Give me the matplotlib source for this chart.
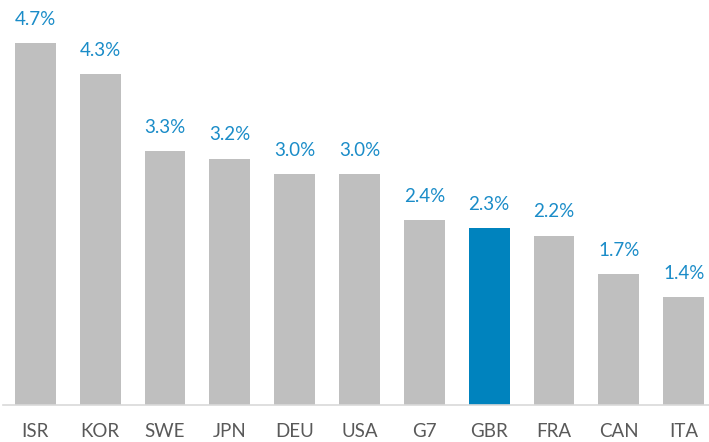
import matplotlib.pyplot as plt

# Country codes and values (%)
countries = ['ISR', 'KOR', 'SWE', 'JPN', 'DEU', 'USA', 'G7', 'GBR', 'FRA', 'CAN', 'ITA']
values = [4.7, 4.3, 3.3, 3.2, 3.0, 3.0, 2.4, 2.3, 2.2, 1.7, 1.4]
highlight = 'GBR'

grey = '#bfbfbf'
blue = '#0083be'
label_blue = '#1a8cc8'

plt.rcParams['font.family'] = ['Lato', 'DejaVu Sans']

fig = plt.figure(figsize=(7.09, 4.42), dpi=100)
ax = fig.add_axes([3 / 709, 37 / 442, 706 / 709, 405 / 442])

colors = [blue if c == highlight else grey for c in countries]
x = range(len(countries))
bars = ax.bar(x, values, width=0.63, color=colors, zorder=2)

for b, v in zip(bars, values):
    ax.annotate(f'{v:.1f}%', (b.get_x() + b.get_width() / 2, v),
                xytext=(0, 11), textcoords='offset points',
                ha='center', va='bottom', fontsize=13.5, color=label_blue)

ax.set_xlim(-0.5, 10.39)
ax.set_ylim(0, 405 / 77)
ax.set_xticks(list(x))
ax.set_xticklabels(countries, fontsize=13.5, color='#595959')
ax.tick_params(axis='x', length=0, pad=13)
ax.set_yticks([])
for s in ['top', 'right', 'left']:
    ax.spines[s].set_visible(False)
ax.spines['bottom'].set_color('#d9d9d9')
ax.spines['bottom'].set_linewidth(1.2)

fig.savefig('out.png', dpi=100)
